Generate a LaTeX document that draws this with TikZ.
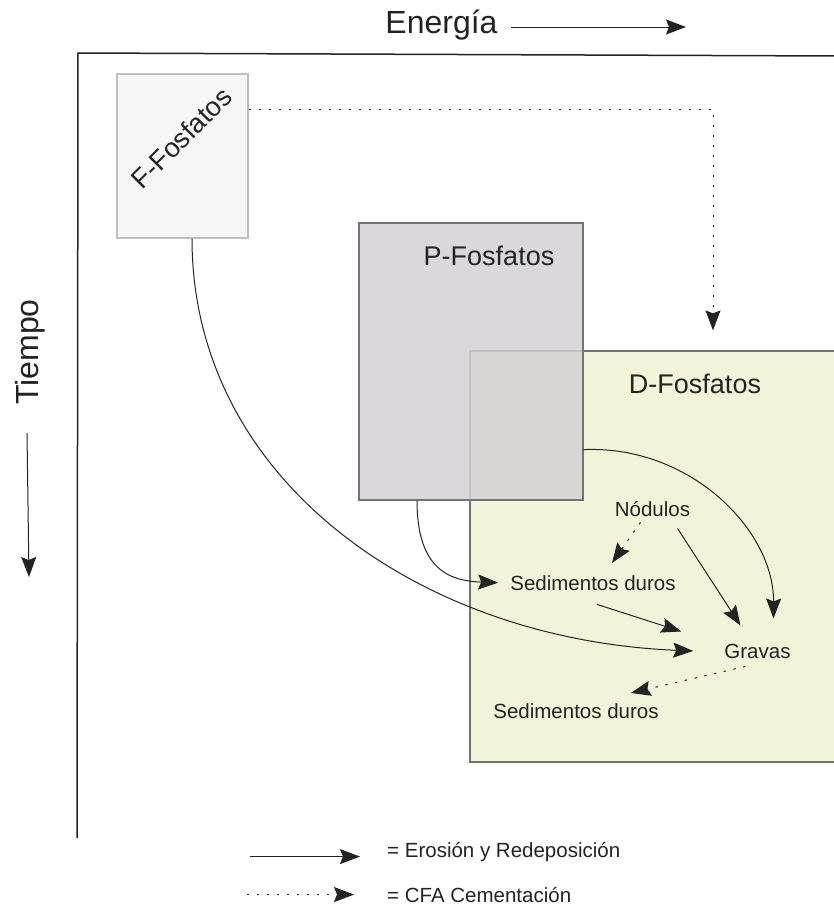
\documentclass[tikz,border=0pt]{standalone}
\usepackage{fontspec}
\setmainfont{Liberation Sans}
\usetikzlibrary{arrows.meta}
\definecolor{ffill}{RGB}{246,246,246}
\definecolor{fline}{RGB}{190,190,190}
\definecolor{pfill}{RGB}{211,209,212}
\definecolor{dfill}{RGB}{241,244,216}
\definecolor{bline}{RGB}{115,115,115}
\definecolor{txt}{RGB}{35,35,35}

\begin{document}
\begin{tikzpicture}[x=1pt,y=-1pt,>={Stealth[length=20pt,width=15pt,inset=3pt]},box/.style={draw,rectangle,inner sep=0pt,line width=1.2pt},ero/.style={->,line width=1pt,draw=txt},cfa/.style={ero,dash pattern=on 2.4pt off 7.6pt},lbl/.style={font=\fontsize{20.5}{24}\selectfont,text=txt,inner sep=2pt},big/.style={font=\fontsize{27}{32}\selectfont,text=txt,inner sep=2pt},huge/.style={font=\fontsize{32}{38}\selectfont,text=txt,inner sep=2pt}]
    \useasboundingbox (0,0) rectangle (834,906);
    \coordinate (orig) at (78,53);
    \draw[line width=1.5pt,txt] (77,838) -- (orig) -- (840,56);
    \node[huge,anchor=base] (energ) at (441.5,33) {Energía};
    \coordinate (e1) at (511,27);
    \coordinate (e2) at (686,27);
    \draw[ero] (e1) -- (e2);
    \node[huge,rotate=90,anchor=base] (tiemp) at (38,352) {Tiempo};
    \coordinate (t1) at (27,433);
    \coordinate (t2) at (29,577);
    \draw[ero] (t1) -- (t2);
    \node[box,fill=ffill,draw=fline,minimum width=131,minimum height=164] (ffos) at (182.5,156) {};
    \node[big,rotate=45,anchor=base] (ftxt) at (188,145) {F-Fosfatos};
    \node[box,fill=dfill,draw=bline,minimum width=370,minimum height=411] (dfos) at (655,556.5) {};
    \node[box,fill=pfill,fill opacity=0.85,draw=bline,minimum width=224,minimum height=277] (pfos) at (471,361.5) {};
    \node[big,anchor=base] (ptxt) at (489,265) {P-Fosfatos};
    \node[big,anchor=base] (dtxt) at (695,393) {D-Fosfatos};
    \node[lbl,anchor=base] (nod) at (652.5,516) {Nódulos};
    \node[lbl,anchor=base] (sed1) at (593,590) {Sedimentos duros};
    \node[lbl,anchor=base] (grav) at (757.5,658) {Gravas};
    \node[lbl,anchor=base] (sed2) at (576,718) {Sedimentos duros};
    \draw[cfa,shorten >=20pt] ([yshift=-36pt]ffos.north east) -| ([xshift=58pt]dfos.north);
    \draw[ero] ([xshift=9.5pt]ffos.south) .. controls (192,480) and (420,640) .. ([xshift=-29pt]grav.west);
    \draw[ero] ([xshift=-54pt]pfos.south) .. controls (417,570) and (450,581) .. ([xshift=-10pt]sed1.west);
    \draw[ero] ([yshift=51pt]pfos.south east) .. controls (690,445) and (774,530) .. ([xshift=16pt,yshift=23pt]grav.north);
    \draw[cfa] ([xshift=-12pt,yshift=-4pt]nod.south) -- ([xshift=19pt,yshift=10pt]sed1.north);
    \draw[ero] ([xshift=25pt,yshift=-10pt]nod.south) -- ([xshift=-17pt,yshift=16pt]grav.north);
    \draw[ero] ([xshift=4pt,yshift=-12pt]sed1.south) -- ([xshift=-41pt,yshift=10pt]grav.north west);
    \draw[cfa] ([xshift=-12pt,yshift=-6pt]grav.south) -- ([xshift=-30pt,yshift=8pt]sed2.north east);
    \node[lbl,anchor=base west] (lero) at (385,857) {= Erosión y Redeposición};
    \node[lbl,anchor=base west] (lcfa) at (385,902) {= CFA Cementación};
    \draw[ero] ([xshift=-135pt,yshift=-5pt]lero.west) -- ([xshift=-25pt,yshift=-5pt]lero.west);
    \draw[cfa] ([xshift=-138pt]lcfa.west) -- ([xshift=-31pt]lcfa.west);
\end{tikzpicture}
\end{document}
